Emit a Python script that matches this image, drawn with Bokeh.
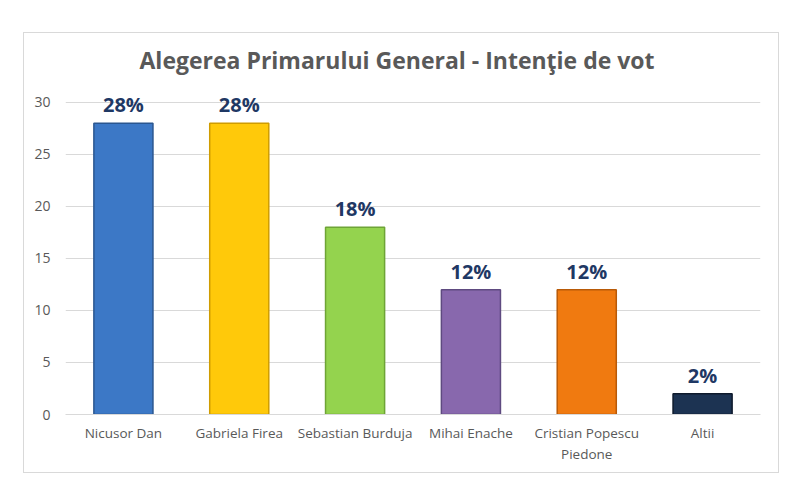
from bokeh.plotting import figure
from bokeh.models import ColumnDataSource, Range1d, FixedTicker, LabelSet
from bokeh.embed import file_html
from bokeh.resources import INLINE
from bokeh.core.properties import value

categories = ["Nicusor Dan", "Gabriela Firea", "Sebastian Burduja", "Mihai Enache",
              "Cristian Popescu\nPiedone", "Altii"]
values = [28, 28, 18, 12, 12, 2]
labels = ["28%", "28%", "18%", "12%", "12%", "2%"]
colors = ["#3c78c6", "#ffc90a", "#94d34e", "#8868ad", "#f07a10", "#1c3352"]
edges = ["#2a5690", "#cf9c00", "#6ea436", "#5e4a80", "#b85a08", "#0e1a2c"]
y_ticks = [0, 5, 10, 15, 20, 25, 30]

src = ColumnDataSource(dict(cat=categories, val=values, lab=labels, col=colors, edge=edges))

p = figure(x_range=categories, y_range=Range1d(0, 32), width=756, height=441,
           output_backend="svg", toolbar_location=None,
           title="Alegerea Primarului General - Intenţie de vot",
           min_border_left=41, min_border_right=20, min_border_top=48, min_border_bottom=60)
p.margin = (32, 0, 0, 23)
p.styles = {"border": "1px solid #d9d9d9"}

p.title.align = "left"
p.title.text_font = "Open Sans"
p.title.text_font_size = "23px"
p.title.text_font_style = "bold"
p.title.text_color = "#595959"
p.title.standoff = 12
p.title.offset = 74

p.vbar(x="cat", top="val", width=0.51, source=src, fill_color="col", line_color="edge", line_width=1.5)

p.add_layout(LabelSet(x="cat", y="val", text="lab", source=src, text_align="center",
                      text_baseline="bottom", y_offset=5, text_font=value("Open Sans"),
                      text_font_size="20px", text_font_style="bold", text_color="#1f3864"))

p.outline_line_color = None
p.xgrid.grid_line_color = None
p.ygrid.grid_line_color = "#d9d9d9"
p.ygrid.grid_line_width = 1.2
p.yaxis.ticker = FixedTicker(ticks=y_ticks)
p.yaxis.axis_line_color = None
p.yaxis.major_tick_line_color = None
p.yaxis.minor_tick_line_color = None
p.yaxis.major_label_text_font = "Open Sans"
p.yaxis.major_label_text_font_size = "14px"
p.yaxis.major_label_text_color = "#595959"
p.yaxis.major_label_standoff = 9
p.xaxis.axis_line_color = "#d9d9d9"
p.xaxis.axis_line_width = 1.2
p.xaxis.major_tick_line_color = None
p.xaxis.minor_tick_line_color = None
p.xaxis.major_label_text_font = "Open Sans"
p.xaxis.major_label_text_font_size = "13.5px"
p.xaxis.major_label_text_color = "#595959"
p.xaxis.major_label_standoff = 3
p.x_range.range_padding = 0

open("out.html", "w").write(file_html(p, INLINE))
